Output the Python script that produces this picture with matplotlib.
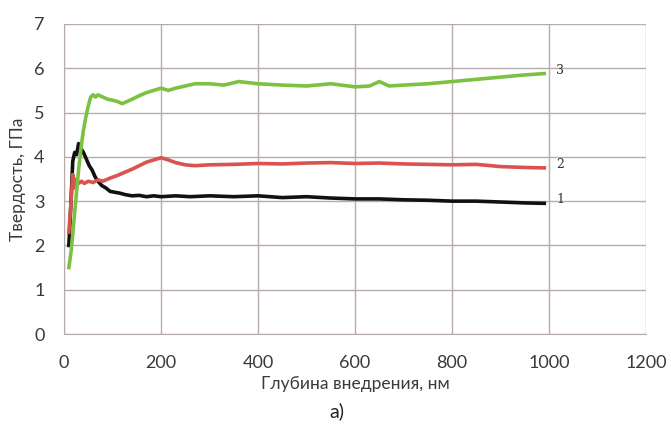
import matplotlib.pyplot as plt

# глубина внедрения, нм и твердость, ГПа
depth_1 = [10, 14, 18, 22, 26, 30, 34, 40, 46, 52, 58, 64, 70, 78, 86, 95, 105, 115, 125, 140,
           155, 170, 185, 200, 230, 260, 300, 350, 400, 450, 500, 550, 600, 650, 700, 750,
           800, 850, 900, 950, 990]
hard_1 = [2.0, 2.9, 3.9, 4.1, 4.05, 4.3, 4.2, 4.1, 3.95, 3.8, 3.7, 3.55, 3.45, 3.35, 3.3, 3.22,
          3.2, 3.18, 3.15, 3.12, 3.13, 3.1, 3.12, 3.1, 3.12, 3.1, 3.12, 3.1, 3.12, 3.08, 3.1,
          3.07, 3.05, 3.05, 3.03, 3.02, 3.0, 3.0, 2.98, 2.96, 2.95]

depth_2 = [10, 14, 18, 22, 26, 30, 36, 42, 50, 60, 70, 80, 95, 110, 125, 140, 155, 170, 185,
           200, 215, 230, 250, 270, 300, 350, 400, 450, 500, 550, 600, 650, 700, 750, 800,
           850, 900, 950, 990]
hard_2 = [2.3, 2.9, 3.6, 3.3, 3.5, 3.4, 3.45, 3.4, 3.45, 3.42, 3.48, 3.45, 3.52, 3.58, 3.65,
          3.72, 3.8, 3.88, 3.93, 3.98, 3.93, 3.87, 3.82, 3.8, 3.82, 3.83, 3.85, 3.84, 3.86,
          3.87, 3.85, 3.86, 3.84, 3.83, 3.82, 3.83, 3.78, 3.76, 3.75]

depth_3 = [10, 15, 20, 25, 30, 35, 40, 45, 50, 55, 60, 65, 70, 80, 90, 100, 110, 120, 130, 140,
           155, 170, 185, 200, 215, 230, 250, 270, 300, 330, 360, 400, 450, 500, 550, 600, 630,
           650, 670, 700, 750, 800, 850, 900, 950, 990]
hard_3 = [1.5, 1.9, 2.5, 3.1, 3.7, 4.2, 4.6, 4.9, 5.15, 5.35, 5.4, 5.35, 5.4, 5.35, 5.3, 5.28,
          5.25, 5.2, 5.25, 5.3, 5.38, 5.45, 5.5, 5.55, 5.5, 5.55, 5.6, 5.65, 5.65, 5.62, 5.7,
          5.65, 5.62, 5.6, 5.65, 5.58, 5.6, 5.7, 5.6, 5.62, 5.65, 5.7, 5.75, 5.8, 5.85, 5.88]

curve_labels = ['1', '2', '3']
curve_colors = ['#111111', '#d9534f', '#7cc242']

plt.rcParams['font.family'] = ['Lato', 'DejaVu Sans']

fig = plt.figure(figsize=(6.71, 4.28), dpi=100)
ax = fig.add_axes([0.0954, 0.2196, 0.8676, 0.7244])

for x, y, c in zip([depth_1, depth_2, depth_3], [hard_1, hard_2, hard_3], curve_colors):
    ax.plot(x, y, color=c, lw=2.6, solid_joinstyle='round')

# номера кривых справа от концов линий
for x, y, lab in zip([depth_1, depth_2, depth_3], [hard_1, hard_2, hard_3], curve_labels):
    ax.text(x[-1] + 25, y[-1] + 0.08, lab, family='DejaVu Serif', fontsize=9,
            color='#333333', va='center')

ax.set_xlim(0, 1200)
ax.set_ylim(0, 7)
ax.set_xticks(range(0, 1201, 200))
ax.set_yticks(range(0, 8))
ax.grid(True, color='#b8abab', lw=1.0)
ax.set_axisbelow(True)
for s in ax.spines.values():
    s.set_visible(False)
ax.spines['left'].set_visible(True)
ax.spines['bottom'].set_visible(True)
ax.spines['left'].set_color('#b8abab')
ax.spines['bottom'].set_color('#b8abab')
ax.tick_params(length=0, labelsize=13, colors='#3a3a3a')
ax.tick_params(axis='x', pad=15)
ax.tick_params(axis='y', pad=14)

ax.set_xlabel('Глубина внедрения, нм', fontsize=12.5, color='#3a3a3a', labelpad=4)
ax.set_ylabel('Твердость, ГПа', fontsize=12.5, color='#3a3a3a', labelpad=6)
fig.text(0.502, 0.025, 'а)', fontsize=14, color='#222222', ha='center')

fig.savefig('out.png', dpi=100)
